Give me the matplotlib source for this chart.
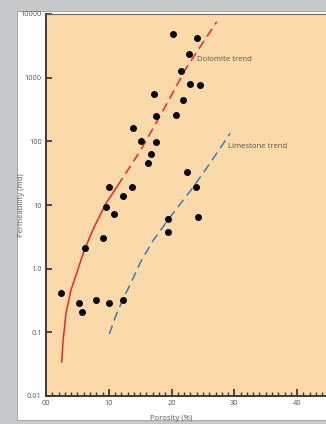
"""
Porosity vs permeability crossplot, dolomite and limestone trends.
"""
import matplotlib
matplotlib.use("Agg")
import matplotlib.pyplot as plt
from matplotlib.patches import Rectangle
from matplotlib.ticker import FixedLocator, MultipleLocator, NullLocator

# Sample points (porosity %, permeability md)
POROSITY = [20.3, 24.0, 22.7, 21.5, 22.9, 24.5, 17.25, 21.9, 17.5, 20.7, 13.9,
            15.1, 17.5, 16.7, 16.2, 22.4, 23.9, 24.2, 19.5, 19.5,
            10.0, 13.75, 12.3, 9.55, 10.8, 9.0, 6.2,
            2.45, 5.2, 5.7, 7.9, 10.0, 12.3]
PERM = [4900, 4250, 2325, 1270, 804, 757, 560, 446, 250, 262, 164,
        102, 98, 64, 46, 32.6, 18.9, 6.5, 6.1, 3.8,
        19.2, 19.2, 14.0, 9.3, 7.2, 3.07, 2.08,
        0.42, 0.286, 0.206, 0.322, 0.286, 0.322]

# Dolomite trend: solid part (curved) then dashed part
DOLO_SOLID_X = [2.5, 2.7, 3.18, 3.98, 5.05, 6.1, 7.7, 9.55, 11.4]
DOLO_SOLID_Y = [0.0334, 0.07, 0.199, 0.462, 0.953, 1.96, 4.56, 10.6, 20.0]
DOLO_DASH_X = [11.4, 15.1, 18.85, 22.3, 27.2]
DOLO_DASH_Y = [20.0, 73, 330, 1400, 7570]

# Limestone trend (dashed)
LIME_X = [10.08, 11.1, 12.2, 13.6, 15.1, 17.0, 19.4, 23.1, 25.75, 29.35]
LIME_Y = [0.094, 0.18, 0.322, 0.62, 1.29, 2.7, 5.8, 17.2, 40, 134]

YTICKS = [0.01, 0.1, 1, 10, 100, 1000, 10000]
YTICK_LABELS = ["0.01", "0.1", "1.0", "10", "100", "1000", "10000"]
XTICKS = [0, 10, 20, 30, 40]
XTICK_LABELS = ["00", "10", "20", "30", "40"]

COL_BG = "#c7c8c9"
COL_PLOT = "#fcd9a8"
COL_RED = "#e8262b"
COL_BLUE = "#2f80c2"
COL_SPINE = "#3c3a38"
COL_TEXT = "#555555"

W, H = 326, 424
fig = plt.figure(figsize=(W / 100, H / 100), dpi=100, facecolor=COL_BG)

# white card behind the chart
fig.patches.append(Rectangle((17 / W, 1 - 420 / H), 1 - 17 / W, (420 - 11) / H,
                             transform=fig.transFigure, facecolor="white",
                             edgecolor="#9a9a9a", linewidth=0.6, zorder=-1))

ax = fig.add_axes([46 / W, 1 - 396 / H, 1 - 46 / W, (396 - 14) / H])
ax.set_facecolor(COL_PLOT)
ax.set_yscale("log")
ax.set_xlim(0, 44.6)
ax.set_ylim(0.01, 10000)

ax.plot(DOLO_SOLID_X, DOLO_SOLID_Y, color=COL_RED, lw=1.1, solid_capstyle="butt")
ax.plot(DOLO_DASH_X, DOLO_DASH_Y, color=COL_RED, lw=1.1, dashes=(6, 3.5))
ax.plot(LIME_X, LIME_Y, color=COL_BLUE, lw=1.1, dashes=(6, 3.5))
ax.plot(POROSITY, PERM, "o", color="black", ms=5.0, mec="none")

ax.text(24.0, 1900, "Dolomite trend", fontsize=5.6, color=COL_TEXT,
        family="Open Sans", va="center")
ax.text(29.0, 84, "Limestone trend", fontsize=5.6, color=COL_TEXT,
        family="Open Sans", va="center")

# axes styling
ax.spines["right"].set_visible(False)
ax.spines["top"].set_color("#6a6a6a")
ax.spines["top"].set_linewidth(0.8)
for s in ("left", "bottom"):
    ax.spines[s].set_color(COL_SPINE)
    ax.spines[s].set_linewidth(1.4)

ax.yaxis.set_major_locator(FixedLocator(YTICKS))
ax.yaxis.set_minor_locator(NullLocator())
ax.set_yticklabels(YTICK_LABELS)
ax.xaxis.set_major_locator(FixedLocator(XTICKS))
ax.xaxis.set_minor_locator(MultipleLocator(1))
ax.set_xticklabels(XTICK_LABELS)

ax.tick_params(axis="y", which="major", direction="in", length=4.5, width=1.3,
               color=COL_SPINE, labelsize=5.3, labelcolor=COL_TEXT, pad=3)
ax.tick_params(axis="x", which="major", direction="in", length=5, width=1.3,
               color=COL_SPINE, labelsize=5.3, labelcolor=COL_TEXT, pad=3)
ax.tick_params(axis="x", which="minor", direction="in", length=2.6, width=1.0,
               color=COL_SPINE)
for lab in ax.get_xticklabels() + ax.get_yticklabels():
    lab.set_family("Open Sans")

ax.text(-0.086, 0.5, "Permeability (md)", transform=ax.transAxes, rotation=90,
        ha="center", va="center", fontsize=5.6, color=COL_TEXT, family="Open Sans")
ax.text(20, -0.05, "Porosity (%)", transform=ax.get_xaxis_transform(),
        ha="center", va="top", fontsize=5.6, color=COL_TEXT, family="Open Sans")

fig.savefig("out.png", dpi=100, facecolor=COL_BG)
